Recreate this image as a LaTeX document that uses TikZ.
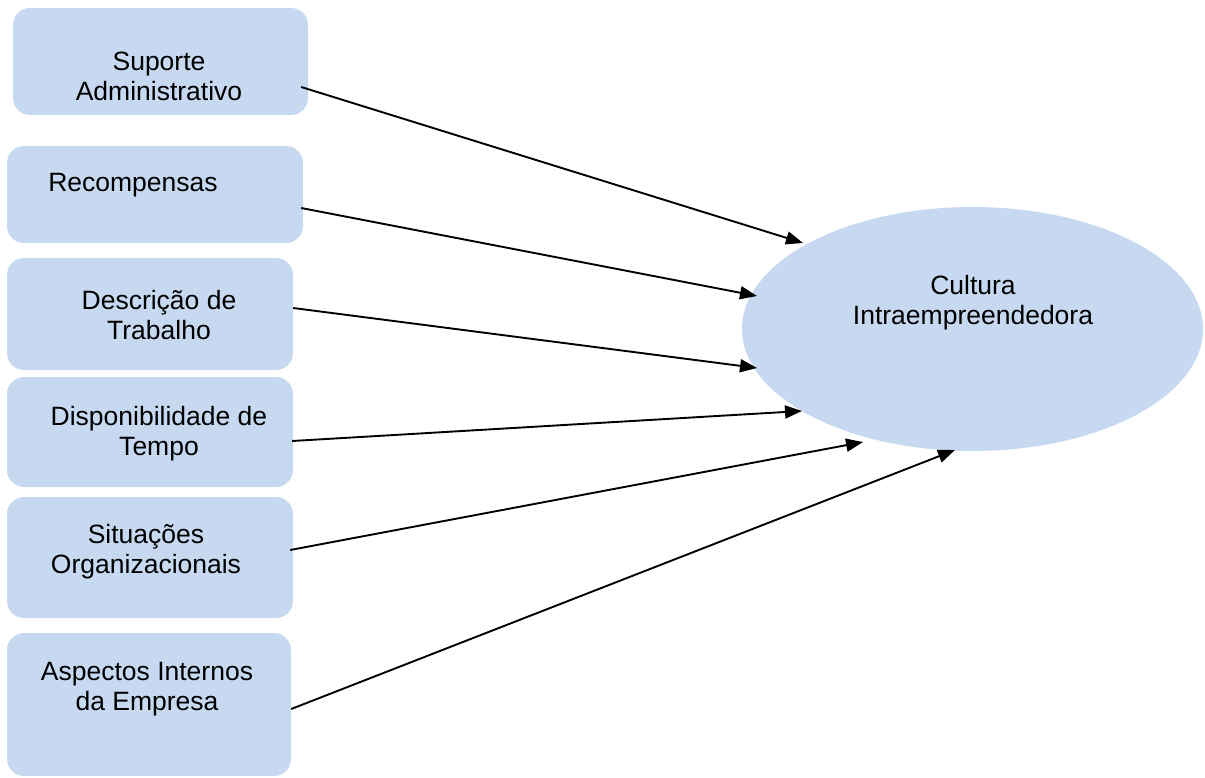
\documentclass[tikz,border=0pt]{standalone}
\usepackage{fontspec}
\setmainfont{Liberation Sans}
\usetikzlibrary{shapes.geometric,arrows.meta,calc}
\definecolor{boxblue}{RGB}{198,217,241}
\begin{document}
\begin{tikzpicture}[x=1pt,y=-1pt,
  factor/.style={fill=boxblue,draw=none,rounded corners=17pt,inner sep=0pt},
  lbl/.style={font=\fontsize{26.5}{30}\selectfont,align=center,anchor=base,inner sep=0pt},
  arr/.style={line width=1.9pt,-{Triangle[length=17pt,width=13pt]}}]
\useasboundingbox (0,0) rectangle (1205,778);

% factor boxes on the left
\node[factor,minimum width=295pt,minimum height=107pt] (b1) at (160.5,61.5) {};
\node[factor,minimum width=296pt,minimum height=97pt]  (b2) at (155,194.5) {};
\node[factor,minimum width=286pt,minimum height=112pt] (b3) at (150,314) {};
\node[factor,minimum width=286pt,minimum height=110pt] (b4) at (150,432) {};
\node[factor,minimum width=286pt,minimum height=121pt] (b5) at (150,557.5) {};
\node[factor,minimum width=284pt,minimum height=143pt] (b6) at (149,704.5) {};

% outcome ellipse
\node[ellipse,fill=boxblue,draw=none,minimum width=461pt,minimum height=244pt,inner sep=0pt] (cul) at (972.5,329) {};

% texts (base anchor sits on the last line)
\node[lbl] (t1) at (159,101) {Suporte\\Administrativo};
\node[lbl] (t2) at (133,192) {Recompensas};
\node[lbl] (t3) at (159,339) {Descrição de\\Trabalho};
\node[lbl] (t4) at (159,455) {Disponibilidade de\\Tempo};
\node[lbl] (t5) at (146,573) {Situações\\Organizacionais};
\node[lbl] (t6) at (147,710) {Aspectos Internos\\da Empresa};
\node[lbl] (tc) at (973,324) {Cultura\\Intraempreendedora};

% arrow tips near the ellipse
\coordinate (e1) at ($(cul.center)+(-169.5,-86)$);
\coordinate (e2) at ($(cul.center)+(-215.5,-33)$);
\coordinate (e3) at ($(cul.center)+(-215.5,39)$);
\coordinate (e4) at ($(cul.center)+(-170.5,82)$);
\coordinate (e5) at ($(cul.center)+(-109.5,113)$);
\coordinate (e6) at ($(cul.center)+(-17.5,121)$);

% connectors
\draw[arr] ($(b1.east)+(-7,25.5)$) -- (e1);
\draw[arr] ($(b2.east)+(-2,13.5)$) -- (e2);
\draw[arr] ($(b3.east)+(0,-6)$) -- (e3);
\draw[arr] ($(b4.east)+(-1,9)$) -- (e4);
\draw[arr] ($(b5.east)+(-3,-7.5)$) -- (e5);
\draw[arr] ($(b6.east)+(0,4.5)$) -- (e6);
\end{tikzpicture}
\end{document}
